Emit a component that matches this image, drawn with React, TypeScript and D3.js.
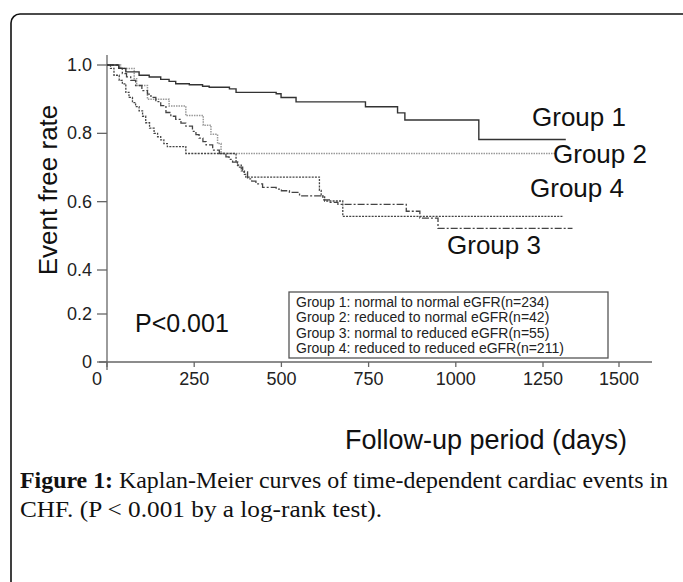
import React from 'react';
import * as d3 from 'd3';

// ---- data ----
const xTicks = [0, 250, 500, 750, 1000, 1250, 1500];
const yTicks = [0, 0.2, 0.4, 0.6, 0.8, 1.0];
const yTickLabels = ['0', '0.2', '0.4', '0.6', '0.8', '1.0'];

const group1Times = [0, 34, 54, 92, 121, 154, 178, 197, 236, 274, 293, 351, 370, 485, 499, 542, 741, 833, 854, 1066, 1325];
const group1Surv = [1, 0.99, 0.98, 0.97, 0.965, 0.958, 0.952, 0.945, 0.942, 0.938, 0.935, 0.93, 0.92, 0.916, 0.905, 0.892, 0.878, 0.86, 0.839, 0.782, 0.782];

const group2Times = [0, 39, 78, 85, 116, 178, 226, 276, 298, 317, 327, 1290];
const group2Surv = [1, 0.99, 0.96, 0.94, 0.9, 0.88, 0.852, 0.824, 0.797, 0.77, 0.741, 0.741];

const group3Times = [0, 34, 44, 56, 68, 82, 100, 116, 126, 140, 154, 169, 183, 197, 212, 226, 245, 255, 264, 275, 284, 303, 322, 341, 350, 360, 375, 389, 403, 415, 427, 446, 485, 500, 523, 552, 619, 640, 662, 858, 897, 949, 1347];
const group3Surv = [1, 0.99, 0.975, 0.965, 0.955, 0.94, 0.925, 0.915, 0.905, 0.893, 0.881, 0.861, 0.85, 0.841, 0.83, 0.821, 0.806, 0.796, 0.786, 0.776, 0.766, 0.751, 0.741, 0.731, 0.724, 0.716, 0.701, 0.687, 0.667, 0.66, 0.652, 0.642, 0.637, 0.632, 0.627, 0.617, 0.605, 0.598, 0.592, 0.572, 0.552, 0.522, 0.522];

const group4Times = [0, 10, 20, 35, 44, 54, 63, 73, 82, 92, 102, 111, 122, 135, 145, 154, 163, 173, 226, 370, 374, 385, 394, 398, 609, 614, 624, 676, 1318];
const group4Surv = [1, 0.99, 0.97, 0.955, 0.945, 0.92, 0.905, 0.89, 0.878, 0.866, 0.85, 0.831, 0.815, 0.8, 0.79, 0.781, 0.77, 0.761, 0.741, 0.716, 0.707, 0.69, 0.68, 0.672, 0.633, 0.617, 0.602, 0.557, 0.557];

const legendLines = [
  'Group 1: normal to normal eGFR(n=234)',
  'Group 2: reduced to normal eGFR(n=42)',
  'Group 3: normal to reduced eGFR(n=55)',
  'Group 4: reduced to reduced eGFR(n=211)',
];

export default function App() {
  const axisY = 362;
  const x = d3.scaleLinear().domain([0, 1250, 1500]).range([107, 543, 619]);
  const y = d3.scaleLinear().domain([0, 0.2, 0.4, 1]).range([axisY, 314, 270, 65]);
  const line = d3
    .line<[number, number]>()
    .x((d) => x(d[0]))
    .y((d) => y(d[1]))
    .curve(d3.curveStepAfter);
  const mk = (t: number[], s: number[]) => line(t.map((v, i) => [v, s[i]] as [number, number])) || '';

  const sans = 'Liberation Sans, Arial, sans-serif';
  const serif = 'Liberation Serif, Times New Roman, serif';

  return (
    <svg width={683} height={582} style={{ position: 'absolute', left: 0, top: 0, background: '#fff' }}>
      <rect x={11} y={14} width={690} height={600} rx={9} fill="none" stroke="#111" strokeWidth={1.6} />

      {/* axes */}
      <line x1={107} x2={107} y1={55} y2={axisY + 8} stroke="#666" strokeWidth={1.3} />
      <line x1={99} x2={652} y1={axisY} y2={axisY} stroke="#666" strokeWidth={1.3} />
      {yTicks.map((t, i) => (
        <g key={'y' + t}>
          <line x1={97} x2={107} y1={y(t)} y2={y(t)} stroke="#666" strokeWidth={1.3} />
          <text x={92} y={y(t) + 6} textAnchor="end" fontFamily={sans} fontSize={18} fill="#222">
            {yTickLabels[i]}
          </text>
        </g>
      ))}
      {xTicks.map((t) => (
        <g key={'x' + t}>
          <line x1={x(t)} x2={x(t)} y1={axisY} y2={axisY + 5} stroke="#666" strokeWidth={1.3} />
          <text x={x(t) - (t === 0 ? 10 : 0)} y={axisY + 23} textAnchor="middle" fontFamily={sans} fontSize={18} fill="#222">
            {t}
          </text>
        </g>
      ))}

      <text transform="translate(57,190) rotate(-90)" textAnchor="middle" fontFamily={sans} fontSize={26} fill="#111">
        Event free rate
      </text>
      <text x={486} y={449} textAnchor="middle" fontFamily={sans} fontSize={27} fill="#111">
        Follow-up period (days)
      </text>

      {/* curves */}
      <path d={mk(group2Times, group2Surv)} fill="none" stroke="#999" strokeWidth={1.5} strokeDasharray="1.5,1" />
      <path d={mk(group4Times, group4Surv)} fill="none" stroke="#444" strokeWidth={1.3} strokeDasharray="2,1.2" />
      <path d={mk(group3Times, group3Surv)} fill="none" stroke="#444" strokeWidth={1.3} strokeDasharray="7,2,2,2" />
      <path d={mk(group1Times, group1Surv)} fill="none" stroke="#333" strokeWidth={1.4} />

      <text x={532} y={126} fontFamily={sans} fontSize={26} fill="#111">Group 1</text>
      <text x={553} y={163} fontFamily={sans} fontSize={26} fill="#111">Group 2</text>
      <text x={530} y={197} fontFamily={sans} fontSize={26} fill="#111">Group 4</text>
      <text x={447} y={254} fontFamily={sans} fontSize={26} fill="#111">Group 3</text>

      {/* legend */}
      <rect x={289} y={292} width={319} height={66} fill="#fff" stroke="#555" strokeWidth={1.3} />
      {legendLines.map((s, i) => (
        <text key={s} x={296} y={307 + i * 15.4} fontFamily={sans} fontSize={14} fill="#222">
          {s}
        </text>
      ))}

      <text x={135} y={332} fontFamily={sans} fontSize={25} fill="#111">P&lt;0.001</text>

      {/* caption */}
      <text x={20} y={488} fontFamily={serif} fontSize={24} fill="#111" textLength={648} lengthAdjust="spacingAndGlyphs">
        <tspan fontWeight="bold">Figure 1:</tspan> Kaplan-Meier curves of time-dependent cardiac events in
      </text>
      <text x={20} y={517} fontFamily={serif} fontSize={24} fill="#111" textLength={362} lengthAdjust="spacingAndGlyphs">
        CHF. (P &lt; 0.001 by a log-rank test).
      </text>
    </svg>
  );
}
